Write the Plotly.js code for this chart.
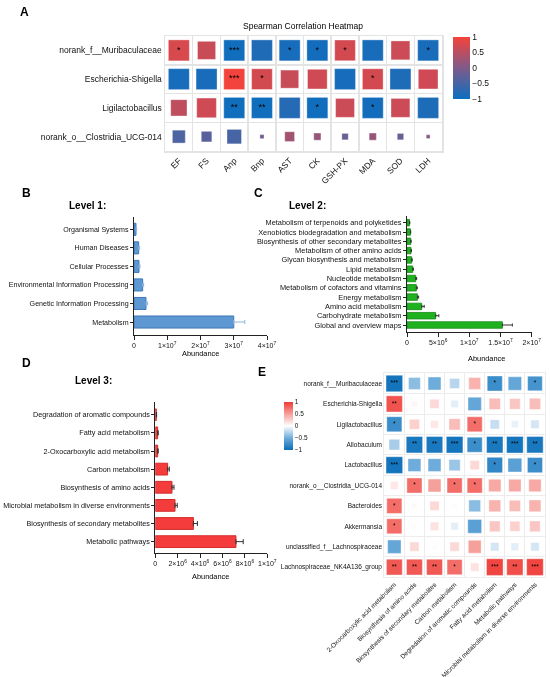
<!DOCTYPE html>
<html>
<head>
<meta charset="utf-8">
<script src="https://cdn.plot.ly/plotly-3.0.1.min.js"></script>
<style>
  html, body { margin: 0; padding: 0; background: #fff; }
  #chart { width: 550px; height: 677px; }
  /* keep small text grey-scale antialiased */
  #chart .main-svg { will-change: transform; }
</style>
</head>
<body>
<div id="chart"></div>
<script>
const W = 550, H = 677;
const FONT = 'Liberation Sans, Arial, sans-serif';
const TXT = '#111';
const px = x => x / W;
const py = y => 1 - y / H;

// ---- A: Spearman heatmap, genera vs. indices
const aRows = ['norank_f__Muribaculaceae', 'Escherichia-Shigella', 'Ligilactobacillus', 'norank_o__Clostridia_UCG-014'];
const aCols = ['EF', 'FS', 'Anp', 'Bnp', 'AST', 'CK', 'GSH-PX', 'MDA', 'SOD', 'LDH'];
const aR = [
    [0.76, 0.62, -0.95, -0.82, -0.9, -0.92, 0.72, -0.88, 0.65, -0.88],
    [-0.9, -0.88, 0.98, 0.72, 0.62, 0.68, -0.9, 0.72, -0.85, 0.68],
    [0.55, 0.68, -0.95, -0.95, -0.78, -0.95, 0.65, -0.92, 0.65, -0.85],
    [-0.42, -0.33, -0.48, -0.08, 0.3, 0.2, -0.17, 0.2, -0.17, 0.07]
];
const aSig = [
    ['*', '', '***', '', '*', '*', '*', '', '', '*'],
    ['', '', '***', '*', '', '', '', '*', '', ''],
    ['', '', '**', '**', '', '*', '', '*', '', ''],
    ['', '', '', '', '', '', '', '', '', '']
];

// ---- B: KEGG level 1
const bCats = ['Organismal Systems', 'Human Diseases', 'Cellular Processes',
    'Environmental Information Processing', 'Genetic Information Processing', 'Metabolism'];
const bVals = [0.6e6, 1.4e6, 1.5e6, 2.6e6, 3.6e6, 3.0e7];
const bErr = [0.2e6, 0.3e6, 0.3e6, 0.3e6, 0.5e6, 0.33e7];

// ---- C: KEGG level 2
const cCats = ['Metabolism of terpenoids and polyketides', 'Xenobiotics biodegradation and metabolism',
    'Biosynthesis of other secondary metabolites', 'Metabolism of other amino acids',
    'Glycan biosynthesis and metabolism', 'Lipid metabolism', 'Nucleotide metabolism',
    'Metabolism of cofactors and vitamins', 'Energy metabolism', 'Amino acid metabolism',
    'Carbohydrate metabolism', 'Global and overview maps'];
const cVals = [0.4e6, 0.55e6, 0.6e6, 0.64e6, 0.75e6, 0.92e6, 1.4e6, 1.5e6, 1.67e6, 2.36e6, 4.6e6, 15.3e6];
const cErr = [0.05e6, 0.05e6, 0.05e6, 0.06e6, 0.08e6, 0.1e6, 0.15e6, 0.15e6, 0.2e6, 0.4e6, 0.5e6, 1.6e6];

// ---- D: KEGG level 3
const dCats = ['Degradation of aromatic compounds', 'Fatty acid metabolism', '2-Oxocarboxylic acid metabolism',
    'Carbon metabolism', 'Biosynthesis of amino acids', 'Microbial metabolism in diverse environments',
    'Biosynthesis of secondary metabolites', 'Metabolic pathways'];
const dVals = [0.09e6, 0.21e6, 0.21e6, 1.1e6, 1.49e6, 1.76e6, 3.4e6, 7.2e6];
const dErr = [0.03e6, 0.05e6, 0.05e6, 0.15e6, 0.18e6, 0.2e6, 0.36e6, 0.65e6];

// ---- E: genera vs. level 3 pathways
const eRows = ['norank_f__Muribaculaceae', 'Escherichia-Shigella', 'Ligilactobacillus', 'Allobaculum',
    'Lactobacillus', 'norank_o__Clostridia_UCG-014', 'Bacteroides', 'Akkermansia',
    'unclassified_f__Lachnospiraceae', 'Lachnospiraceae_NK4A136_group'];
const eCols = ['2-Oxocarboxylic acid metabolism', 'Biosynthesis of amino acids',
    'Biosynthesis of secondary metabolites', 'Carbon metabolism', 'Degradation of aromatic compounds',
    'Fatty acid metabolism', 'Metabolic pathways', 'Microbial metabolism in diverse environments'];
const eR = [
    [-0.95, -0.4, -0.5, -0.25, 0.4, -0.75, -0.55, -0.7],
    [0.88, 0.05, 0.2, -0.1, -0.55, 0.35, 0.3, 0.35],
    [-0.75, 0.25, 0.12, 0.35, 0.75, -0.2, -0.08, -0.15],
    [-0.3, -0.92, -0.92, -0.95, -0.75, -0.92, -0.95, -0.92],
    [-0.95, -0.5, -0.5, -0.35, 0.2, -0.8, -0.6, -0.75],
    [0.12, 0.75, 0.5, 0.75, 0.75, 0.45, 0.45, 0.45],
    [0.75, 0.03, 0.2, 0.02, -0.4, 0.4, 0.35, 0.4],
    [0.75, 0.02, 0.15, -0.1, -0.6, 0.3, 0.25, 0.3],
    [-0.55, 0.2, 0.02, 0.2, 0.5, -0.15, -0.1, -0.15],
    [0.85, 0.85, 0.85, 0.75, 0.15, 0.95, 0.9, 0.95]
];
const eSig = [
    ['***', '', '', '', '', '*', '', '*'],
    ['**', '', '', '', '', '', '', ''],
    ['*', '', '', '', '*', '', '', ''],
    ['', '**', '**', '***', '*', '**', '***', '**'],
    ['***', '', '', '', '', '*', '', '*'],
    ['', '*', '', '*', '*', '', '', ''],
    ['*', '', '', '', '', '', '', ''],
    ['*', '', '', '', '', '', '', ''],
    ['', '', '', '', '', '', '', ''],
    ['**', '**', '**', '*', '', '***', '**', '***']
];

function flatten(rows, cols, r, sig, sizeFn) {
    const o = { x: [], y: [], c: [], s: [], t: [] };
    rows.forEach((row, i) => cols.forEach((col, j) => {
        o.x.push(col); o.y.push(row);
        o.c.push(r[i][j]); o.s.push(sizeFn(Math.abs(r[i][j])));
        o.t.push(sig[i][j]);
    }));
    return o;
}

const A = flatten(aRows, aCols, aR, aSig, v => Math.min(21, 2 + 26 * v));
const E = flatten(eRows, eCols, eR, eSig, v => 3 + 14 * Math.sqrt(v));

const traces = [
    {
        type: 'scatter', mode: 'markers+text', xaxis: 'x', yaxis: 'y',
        x: A.x, y: A.y, text: A.t, textposition: 'middle center',
        textfont: { size: 9, color: '#000', family: FONT },
        marker: {
            symbol: 'square', size: A.s, color: A.c, cmin: -1, cmax: 1, opacity: 1,
            colorscale: [[0, '#0b6fc0'], [0.5, '#7f5a8a'], [1, '#f4433a']],
            line: { color: 'rgba(255,255,255,0.35)', width: 1 },
            showscale: true,
            colorbar: {
                x: px(453), xanchor: 'left', y: py(68), yanchor: 'middle',
                len: 62, lenmode: 'pixels', thickness: 17, xpad: 0, ypad: 0,
                outlinewidth: 0, ticks: '', tickvals: [-1, -0.5, 0, 0.5, 1],
                tickfont: { size: 8.5, color: TXT, family: FONT }
            }
        }
    },
    {
        type: 'bar', orientation: 'h', xaxis: 'x2', yaxis: 'y2',
        y: bCats, x: bVals, width: 0.65,
        marker: { color: '#5e98d3', line: { color: '#3c78ba', width: 1 } },
        error_x: { type: 'data', symmetric: false, array: bErr, arrayminus: bErr.map(() => 0),
            color: '#8cb4de', thickness: 1, width: 2 }
    },
    {
        type: 'bar', orientation: 'h', xaxis: 'x3', yaxis: 'y3',
        y: cCats, x: cVals, width: 0.7,
        marker: { color: '#1fb21f', line: { color: '#148a14', width: 0.8 } },
        error_x: { type: 'data', symmetric: false, array: cErr, arrayminus: cErr.map(() => 0),
            color: '#333', thickness: 1, width: 1.5 }
    },
    {
        type: 'bar', orientation: 'h', xaxis: 'x4', yaxis: 'y4',
        y: dCats, x: dVals, width: 0.65,
        marker: { color: '#f43c3c', line: { color: '#d42c2c', width: 1 } },
        error_x: { type: 'data', symmetric: false, array: dErr, arrayminus: dErr.map(() => 0),
            color: '#333', thickness: 1, width: 2.5 }
    },
    {
        type: 'scatter', mode: 'markers+text', xaxis: 'x5', yaxis: 'y5',
        x: E.x, y: E.y, text: E.t, textposition: 'middle center',
        textfont: { size: 6.5, color: '#000', family: FONT },
        marker: {
            symbol: 'square', size: E.s, color: E.c, cmin: -1, cmax: 1, opacity: 1,
            colorscale: [[0, '#0a6fb8'], [0.25, '#6eacdb'], [0.5, '#ffffff'], [0.75, '#f6a09b'], [1, '#ef3b36']],
            line: { color: 'rgba(255,255,255,0.4)', width: 1 },
            showscale: true,
            colorbar: {
                x: px(284), xanchor: 'left', y: py(425.5), yanchor: 'middle',
                len: 47.6, lenmode: 'pixels', thickness: 9.3, xpad: 0, ypad: 0,
                outlinewidth: 0, ticks: '', tickvals: [-1, -0.5, 0, 0.5, 1],
                tickfont: { size: 6.5, color: TXT, family: FONT }
            }
        }
    }
];

const gridAxis = (cats, dom, anchor, extra) => Object.assign({
    domain: dom, anchor: anchor, type: 'category', categoryarray: cats, categoryorder: 'array',
    tickson: 'boundaries', showgrid: true, gridcolor: '#e3e3e3', gridwidth: 1.5,
    showline: true, mirror: true, linecolor: '#e3e3e3', linewidth: 1.5,
    ticks: '', zeroline: false, fixedrange: true
}, extra);

const barX = (dom, anchor, max, vals, text) => ({
    domain: dom, anchor: anchor, range: [0, max], tickvals: vals, ticktext: text,
    showgrid: false, zeroline: false, showline: true, linecolor: '#222', linewidth: 1,
    ticks: 'outside', ticklen: 4, tickwidth: 1, tickcolor: '#222',
    tickfont: { size: 7, color: TXT, family: FONT }
});
const barY = (cats, dom, anchor, range, size) => ({
    domain: dom, anchor: anchor, type: 'category', categoryarray: cats, categoryorder: 'array',
    range: range, showgrid: false, zeroline: false, showline: true, linecolor: '#222', linewidth: 1,
    ticks: 'outside', ticklen: 3, tickwidth: 1, tickcolor: '#222',
    tickfont: { size: size, color: TXT, family: FONT }
});

const ann = (text, x, y, size, bold, extra) => Object.assign({
    text: bold ? '<b>' + text + '</b>' : text, xref: 'paper', yref: 'paper',
    x: px(x), y: py(y), xanchor: 'center', yanchor: 'middle', showarrow: false,
    font: { size: size, color: '#000', family: FONT }
}, extra);

const layout = {
    width: W, height: H, margin: { l: 0, r: 0, t: 0, b: 0 },
    paper_bgcolor: '#fff', plot_bgcolor: 'rgba(0,0,0,0)', showlegend: false,
    font: { family: FONT, color: TXT },
    xaxis: gridAxis(aCols, [px(165), px(442)], 'y',
        { range: [-0.5, 9.5], tickangle: -45, tickfont: { size: 8.5, color: TXT } }),
    yaxis: gridAxis(aRows, [py(151), py(36)], 'x',
        { range: [3.5, -0.5], tickfont: { size: 8.5, color: TXT } }),
    xaxis2: barX([px(134), px(267)], 'y2', 4e7, [0, 1e7, 2e7, 3e7, 4e7],
        ['0', '1×10<sup>7</sup>', '2×10<sup>7</sup>', '3×10<sup>7</sup>', '4×10<sup>7</sup>']),
    yaxis2: barY(bCats, [py(335), py(216.7)], 'x2', [5.7, -0.68], 7.1),
    xaxis3: barX([px(407), px(531.7)], 'y3', 2e7, [0, 5e6, 1e7, 1.5e7, 2e7],
        ['0', '5×10<sup>6</sup>', '1×10<sup>7</sup>', '1.5×10<sup>7</sup>', '2×10<sup>7</sup>']),
    yaxis3: barY(cCats, [py(331.7), py(216)], 'x3', [11.72, -0.72], 7.4),
    xaxis4: barX([px(155.3), px(267.3)], 'y4', 1e7, [0, 2e6, 4e6, 6e6, 8e6, 1e7],
        ['0', '2×10<sup>6</sup>', '4×10<sup>6</sup>', '6×10<sup>6</sup>', '8×10<sup>6</sup>', '1×10<sup>7</sup>']),
    yaxis4: barY(dCats, [py(552.7), py(401.7)], 'x4', [7.61, -0.72], 7.25),
    xaxis5: gridAxis(eCols, [px(384.3), px(545)], 'y5',
        { range: [-0.5, 7.5], tickangle: -45, gridcolor: '#ececec', gridwidth: 1,
          linecolor: '#ececec', linewidth: 1, tickfont: { size: 6.5, color: TXT } }),
    yaxis5: gridAxis(eRows, [py(577.3), py(373.3)], 'x5',
        { range: [9.5, -0.5], gridcolor: '#ececec', gridwidth: 1,
          linecolor: '#ececec', linewidth: 1, tickfont: { size: 6.5, color: TXT } }),
    annotations: [
        ann('A', 24, 12.5, 12, true),
        ann('B', 26, 192.5, 12, true),
        ann('C', 258, 192.5, 12, true),
        ann('D', 26, 363, 12, true),
        ann('E', 262, 372, 12, true),
        ann('Spearman Correlation Heatmap', 303, 26, 8.5, false),
        ann('Level 1:', 87, 206, 10, true),
        ann('Level 2:', 307.5, 206, 10, true),
        ann('Level 3:', 93, 381, 10, true),
        ann('Abundance', 200.3, 353.3, 7.4, false),
        ann('Abundance', 486, 358, 7.4, false),
        ann('Abundance', 211, 576.7, 7.4, false)
    ]
};

Plotly.newPlot('chart', traces, layout, { staticPlot: true });
</script>
</body>
</html>
